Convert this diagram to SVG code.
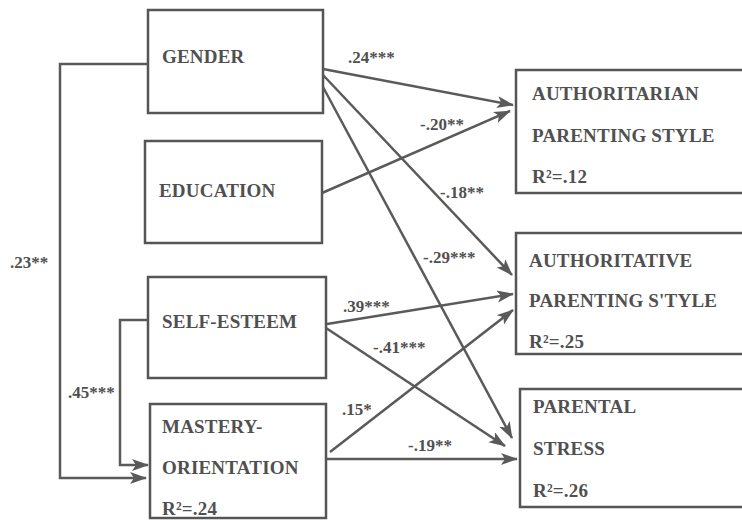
<svg xmlns="http://www.w3.org/2000/svg" width="742" height="520" viewBox="0 0 742 520">
  <style>
    .box { fill: #ffffff; stroke: #555555; stroke-width: 2.5; }
    .node { font-family: "Liberation Serif", "Times New Roman", serif; font-size: 19px; font-weight: bold; fill: #505050; letter-spacing: 0.2px; }
    .coef { font-family: "Liberation Serif", "Times New Roman", serif; font-size: 17px; font-weight: bold; fill: #505050; }
    .edge { fill: none; stroke: #5a5a5a; stroke-width: 2.5; }
  </style>
  <defs>
    <marker id="arrow" markerUnits="userSpaceOnUse" markerWidth="18" markerHeight="14" refX="16" refY="6" orient="auto">
      <path d="M0,0 L17,6 L0,12 L4,6 Z" fill="#5a5a5a"/>
    </marker>
  </defs>
  <rect width="742" height="520" fill="#ffffff"/>

  <!-- predictor boxes -->
  <g id="gender">
    <rect class="box" x="148" y="10" width="175" height="103"/>
    <text class="node" x="162" y="63">GENDER</text>
  </g>
  <g id="education">
    <rect class="box" x="145" y="141" width="177" height="102"/>
    <text class="node" x="159" y="197">EDUCATION</text>
  </g>
  <g id="self-esteem">
    <rect class="box" x="148" y="277" width="178" height="101"/>
    <text class="node" x="162" y="328">SELF-ESTEEM</text>
  </g>
  <g id="mastery">
    <rect class="box" x="150" y="404" width="176" height="114"/>
    <text class="node" x="162" y="433">MASTERY-</text>
    <text class="node" x="162" y="474">ORIENTATION</text>
    <text class="node" x="162" y="515">R²=.24</text>
  </g>

  <!-- outcome boxes -->
  <g id="authoritarian">
    <rect class="box" x="516" y="70" width="240" height="123"/>
    <text class="node" x="532" y="100">AUTHORITARIAN</text>
    <text class="node" x="532" y="142">PARENTING STYLE</text>
    <text class="node" x="532" y="183">R²=.12</text>
  </g>
  <g id="authoritative">
    <rect class="box" x="516" y="233" width="240" height="121"/>
    <text class="node" x="529" y="267">AUTHORITATIVE</text>
    <text class="node" x="529" y="307">PARENTING S'TYLE</text>
    <text class="node" x="529" y="348">R²=.25</text>
  </g>
  <g id="parental-stress">
    <rect class="box" x="520" y="389" width="236" height="118"/>
    <text class="node" x="533" y="413">PARENTAL</text>
    <text class="node" x="533" y="455">STRESS</text>
    <text class="node" x="533" y="497">R²=.26</text>
  </g>

  <!-- paths -->
  <g id="connectors">
    <path class="edge" d="M323,69 L513,105" marker-end="url(#arrow)"/>
    <path class="edge" d="M322,193 L510,111" marker-end="url(#arrow)"/>
    <path class="edge" d="M323,75 L512,275" marker-end="url(#arrow)"/>
    <path class="edge" d="M323,87 L512,438" marker-end="url(#arrow)"/>
    <path class="edge" d="M327,324 L513,294" marker-end="url(#arrow)"/>
    <path class="edge" d="M326,328 L505,446" marker-end="url(#arrow)"/>
    <path class="edge" d="M330,452 L513,310" marker-end="url(#arrow)"/>
    <path class="edge" d="M327,459 L517,459" marker-end="url(#arrow)"/>
    <path class="edge" d="M148,64 H60 V478 H146" marker-end="url(#arrow)"/>
    <path class="edge" d="M148,320 H120 V465 H148" marker-end="url(#arrow)"/>
  </g>

  <!-- path coefficients -->
  <g id="coefficients">
    <text class="coef" x="348" y="63">.24***</text>
    <text class="coef" x="420" y="130">-.20**</text>
    <text class="coef" x="440" y="198">-.18**</text>
    <text class="coef" x="423" y="263">-.29***</text>
    <text class="coef" x="343" y="312">.39***</text>
    <text class="coef" x="373" y="353">-.41***</text>
    <text class="coef" x="342" y="415">.15*</text>
    <text class="coef" x="408" y="451">-.19**</text>
    <text class="coef" x="10" y="268">.23**</text>
    <text class="coef" x="68" y="398">.45***</text>
  </g>
</svg>
